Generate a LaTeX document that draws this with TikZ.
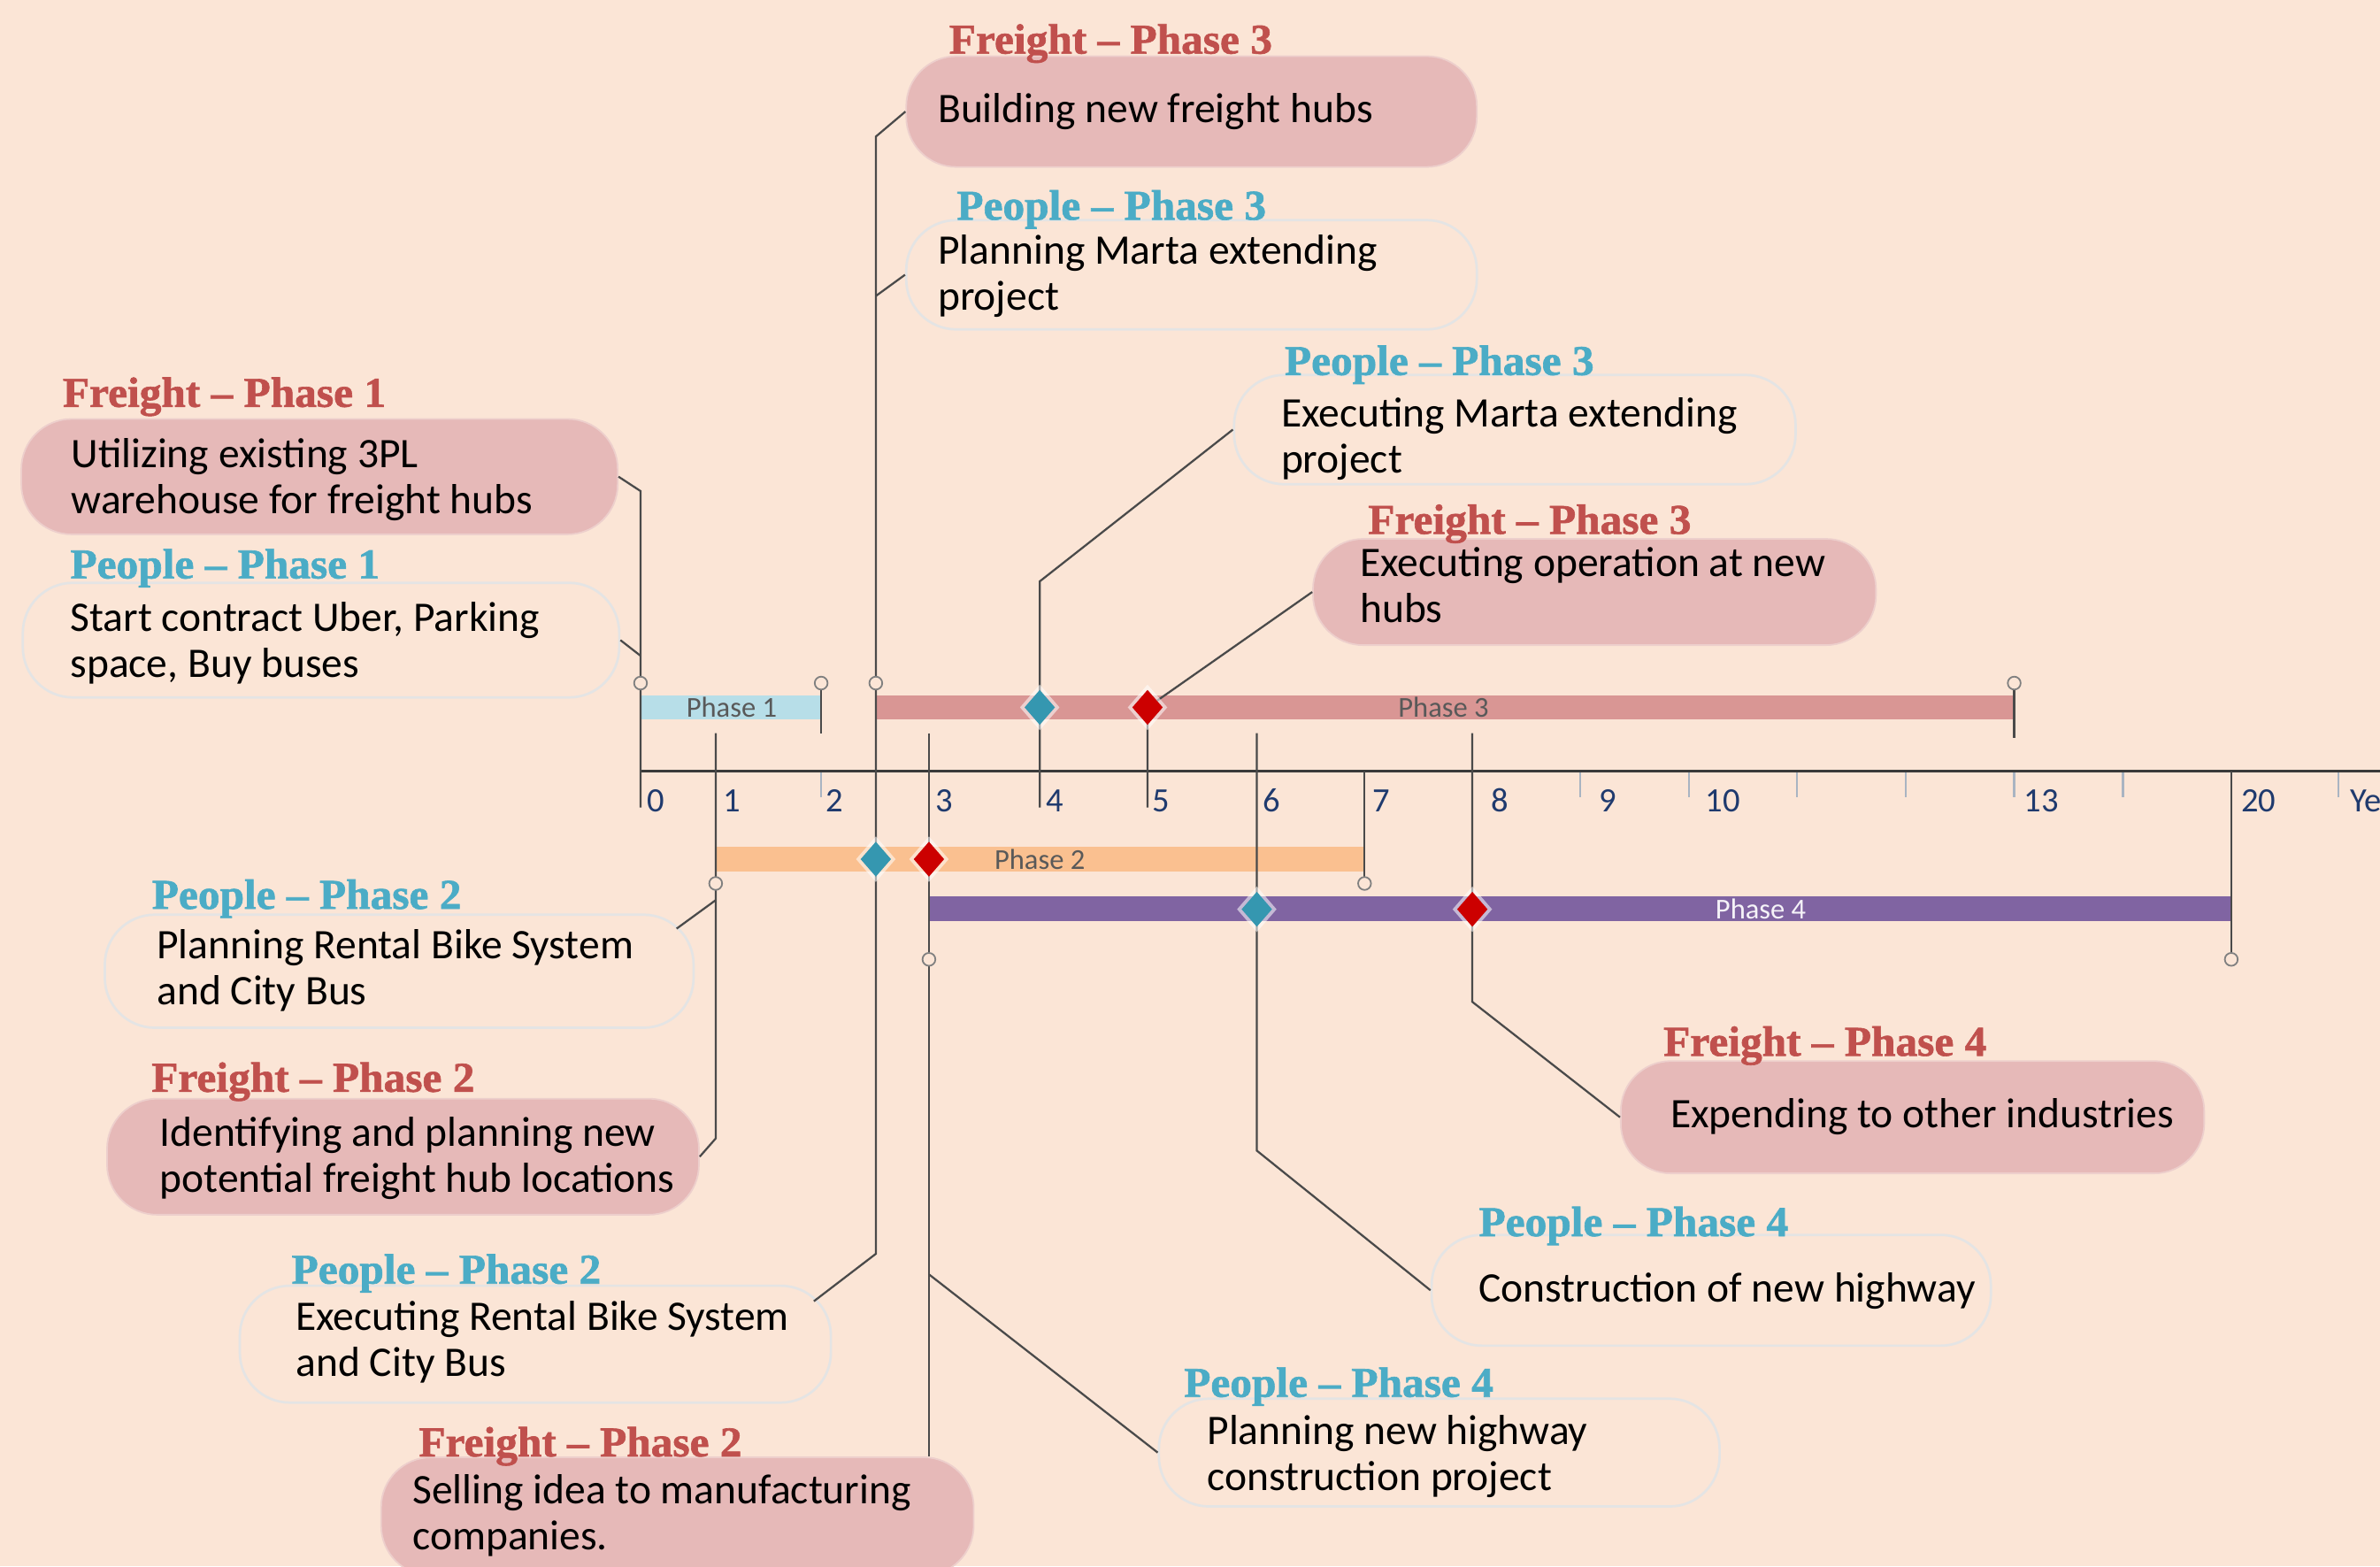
\documentclass[tikz,border=0pt]{standalone}
\usepackage{fontspec}
\setmainfont{Carlito}
\newfontfamily\hdfont{Liberation Serif Bold}[FakeStretch=1.03, FakeBold=1.3]
\usetikzlibrary{calc}
\definecolor{bg}{HTML}{FBE5D6}
\definecolor{fred}{HTML}{C0504D}
\definecolor{pteal}{HTML}{4BACC6}
\definecolor{fbx}{HTML}{E6B9B8}
\definecolor{fbxline}{HTML}{EDCFCC}
\definecolor{pline}{HTML}{E4E4E4}
\definecolor{cline}{HTML}{4A4A4A}
\definecolor{axisc}{HTML}{3A3A3A}
\definecolor{tickc}{HTML}{A9B4C2}
\definecolor{navy}{HTML}{1F3A6E}
\definecolor{ph1}{HTML}{B7DEE8}
\definecolor{ph2}{HTML}{FAC090}
\definecolor{ph3}{HTML}{D99694}
\definecolor{ph4}{HTML}{8064A2}
\definecolor{dteal}{HTML}{3597B0}
\definecolor{dred}{HTML}{CC0000}
\definecolor{barlabc}{HTML}{595959}
\newcommand{\twoln}[2]{\begin{tabular}[t]{@{}l@{}}#1\\#2\end{tabular}}
\newcommand{\dmd}[3]{%
  \fill[white,opacity=0.55] (#1,#2-15) -- (#1+13,#2) -- (#1,#2+15) -- (#1-13,#2) -- cycle;
  \fill[#3] (#1,#2-11.5) -- (#1+10,#2) -- (#1,#2+11.5) -- (#1-10,#2) -- cycle;}
\tikzset{
  fbox/.style={rectangle, rounded corners=0.66cm, fill=fbx, draw=fbxline, line width=0.6pt, inner sep=0pt},
  pbox/.style={rectangle, rounded corners=0.66cm, draw=pline, line width=0.9pt, inner sep=0pt},
  fhead/.style={anchor=base west, inner sep=0pt, text=fred, font=\hdfont\fontsize{15.9}{18}\selectfont},
  phead/.style={anchor=base west, inner sep=0pt, text=pteal, font=\hdfont\fontsize{15.9}{18}\selectfont},
  body/.style={anchor=base west, inner sep=0pt, text=black, font=\fontsize{15.77}{17.24}\selectfont},
  conn/.style={draw=cline, line width=0.75pt},
  endpt/.style={circle, draw=gray, fill=bg, line width=0.6pt, minimum size=0.17cm, inner sep=0pt},
  ticklab/.style={anchor=base, inner sep=0pt, text=navy, font=\fontsize{12.8}{14}\selectfont},
  barlab/.style={inner sep=0pt, font=\fontsize{10.8}{12}\selectfont},
  tickmark/.style={draw=tickc, line width=0.8pt}
}
\begin{document}
\begin{tikzpicture}[x=0.02cm, y=-0.02cm]
\useasboundingbox (0,0) rectangle (1568,1032);
\clip (0,0) rectangle (1568,1032);
\fill[bg] (0,0) rectangle (1568,1032);

% ---------- boxes ----------
\node[fbox, minimum width=7.86cm, minimum height=1.52cm] (A) at (210.5,314) {};
\node[pbox, minimum width=7.86cm, minimum height=1.51cm] (B) at (211.5,421.7) {};
\node[fbox, minimum width=7.52cm, minimum height=1.46cm] (C) at (785,73.5) {};
\node[pbox, minimum width=7.52cm, minimum height=1.44cm] (D) at (785,181) {};
\node[pbox, minimum width=7.40cm, minimum height=1.44cm] (E) at (998,283) {};
\node[fbox, minimum width=7.42cm, minimum height=1.40cm] (F) at (1050.5,390) {};
\node[pbox, minimum width=7.76cm, minimum height=1.49cm] (G) at (263,639.8) {};
\node[fbox, minimum width=7.80cm, minimum height=1.53cm] (H) at (265.5,762) {};
\node[pbox, minimum width=7.79cm, minimum height=1.54cm] (I) at (352.7,885.5) {};
\node[fbox, minimum width=7.81cm, minimum height=1.56cm] (J) at (446.3,999) {};
\node[fbox, minimum width=7.69cm, minimum height=1.48cm] (K) at (1260,736) {};
\node[pbox, minimum width=7.37cm, minimum height=1.46cm] (L) at (1127.4,850) {};
\node[pbox, minimum width=7.39cm, minimum height=1.42cm] (M) at (948.2,956.9) {};

% ---------- bars ----------
\fill[ph1] (422,458) rectangle (541,474);
\fill[ph3] (577,458) rectangle (1327,474);
\fill[ph2] (471.5,558) rectangle (899,574);
\fill[ph4] (612,590.6) rectangle (1470,607);

% ---------- axis and ticks ----------
\coordinate (ax0) at (422,508);
\coordinate (ax1) at (1575,508);
\foreach \t in {541,685,756,1041,1112.6,1184,1255.6,1327,1398.6,1470,1540.6}
  \draw[tickmark] (\t,508) -- (\t,525);
\draw[draw=axisc, line width=1.2pt] (ax0) -- (ax1);

% ---------- connectors ----------
\coordinate (a1) at (422,323.5);
\coordinate (a2) at (422,432);
\coordinate (a0) at (422,532);
\draw[conn] (A.east) -- (a1) -- (a0);
\draw[conn] (B.east) -- (a2);

\coordinate (p1e0) at (541,450);
\coordinate (p1e1) at (541,483);
\draw[conn] (p1e0) -- (p1e1);

\coordinate (c1) at (577,90);
\coordinate (c2) at (577,195);
\coordinate (c3) at (577,826);
\draw[conn] (C.west) -- (c1) -- (c3) -- ($(I.north east)+(-12,11)$);
\draw[conn] (D.west) -- (c2);

\coordinate (e1) at (685,383);
\coordinate (e0) at (685,532);
\draw[conn] (E.west) -- (e1) -- (e0);

\coordinate (f1) at (756,466);
\coordinate (f0) at (756,532);
\draw[conn] (F.west) -- (f1) -- (f0);

\coordinate (g0) at (471.5,483);
\coordinate (g1) at (471.5,593);
\coordinate (g2) at (471.5,750);
\draw[conn] (g0) -- (g2) -- (H.east);
\draw[conn] (g1) -- ($(G.north east)+(-12,10)$);

\coordinate (j0) at (612,483);
\coordinate (j1) at (612,839.5);
\draw[conn] (j0) -- (j0 |- J.north);
\draw[conn] (j1) -- (M.west);

\coordinate (l0) at (828,483);
\coordinate (l1) at (828,758);
\draw[conn] (l0) -- (l1) -- (L.west);

\coordinate (k0) at (970,483);
\coordinate (k1) at (970,660);
\draw[conn] (k0) -- (k1) -- (K.west);

\coordinate (p2e0) at (899,508);
\coordinate (p2e1) at (899,582);
\draw[conn] (p2e0) -- (p2e1);

\coordinate (p3e0) at (1327,450);
\coordinate (p3e1) at (1327,486);
\draw[conn] (p3e0) -- (p3e1);

\coordinate (p4e0) at (1470,508);
\coordinate (p4e1) at (1470,632);
\draw[conn] (p4e0) -- (p4e1);

% ---------- end circles ----------
\node[endpt] (o1) at (422,450) {};
\node[endpt] (o2) at (541,450) {};
\node[endpt] (o3) at (577,450) {};
\node[endpt] (o4) at (1327,450) {};
\node[endpt] (o5) at (471.5,582) {};
\node[endpt] (o6) at (899,582) {};
\node[endpt] (o7) at (612,632) {};
\node[endpt] (o8) at (1470,632) {};

% ---------- diamonds ----------
\dmd{685}{466}{dteal}
\dmd{756}{466}{dred}
\dmd{577}{566}{dteal}
\dmd{612}{566}{dred}
\dmd{828}{599}{dteal}
\dmd{970}{599}{dred}

% ---------- bar labels ----------
\node[barlab, text=barlabc] (bl1) at (482,466) {Phase 1};
\node[barlab, text=barlabc] (bl3) at (951,466) {Phase 3};
\node[barlab, text=barlabc] (bl2) at (685,566) {Phase 2};
\node[barlab, text=white!92!ph4] (bl4) at (1160,599) {Phase 4};

% ---------- tick labels ----------
\node[ticklab] (t0) at (432,535) {0};
\node[ticklab] (t1) at (482,535) {1};
\node[ticklab] (t2) at (550,535) {2};
\node[ticklab] (t3) at (622,535) {3};
\node[ticklab] (t4) at (695,535) {4};
\node[ticklab] (t5) at (765,535) {5};
\node[ticklab] (t6) at (838,535) {6};
\node[ticklab] (t7) at (910,535) {7};
\node[ticklab] (t8) at (988,535) {8};
\node[ticklab] (t9) at (1059,535) {9};
\node[ticklab] (t10) at (1135,535) {10};
\node[ticklab] (t13) at (1345,535) {13};
\node[ticklab] (t20) at (1488,535) {20};
\node[ticklab, anchor=base west] (tyr) at (1548,535) {Ye};

% ---------- headers ----------
\node[fhead] (hA) at (41,268) {Freight – Phase 1};
\node[phead] (hB) at (46,381) {People – Phase 1};
\node[fhead] (hC) at (625,35.3) {Freight – Phase 3};
\node[phead] (hD) at (630,144.7) {People – Phase 3};
\node[phead] (hE) at (846,247) {People – Phase 3};
\node[fhead] (hF) at (901,351.7) {Freight – Phase 3};
\node[phead] (hG) at (99.8,598.7) {People – Phase 2};
\node[fhead] (hH) at (99.5,719.2) {Freight – Phase 2};
\node[phead] (hI) at (191.8,845.6) {People – Phase 2};
\node[fhead] (hJ) at (275.6,959.4) {Freight – Phase 2};
\node[fhead] (hK) at (1095.6,695.5) {Freight – Phase 4};
\node[phead] (hL) at (974,814.3) {People – Phase 4};
\node[phead] (hM) at (779.7,920.2) {People – Phase 4};

% ---------- body texts ----------
\node[body] (xA) at (46.6,308) {\twoln{Utilizing existing 3PL}{warehouse for freight hubs}};
\node[body] (xB) at (46,416) {\twoln{Start contract Uber, Parking}{space, Buy buses}};
\node[body] (xC) at (617.6,81) {Building new freight hubs};
\node[body] (xD) at (617.6,173.8) {\twoln{Planning Marta extending}{project}};
\node[body] (xE) at (843.7,281) {\twoln{Executing Marta extending}{project}};
\node[body] (xF) at (895.7,380) {\twoln{Executing operation at new}{hubs}};
\node[body] (xG) at (103,631.3) {\twoln{Planning Rental Bike System}{and City Bus}};
\node[body] (xH) at (105,755.3) {\twoln{Identifying and planning new}{potential freight hub locations}};
\node[body] (xI) at (194.6,876.4) {\twoln{Executing Rental Bike System}{and City Bus}};
\node[body] (xJ) at (271.5,990.8) {\twoln{Selling idea to manufacturing}{companies.}};
\node[body] (xK) at (1100.2,742.8) {Expending to other industries};
\node[body] (xL) at (973.9,857.8) {Construction of new highway};
\node[body] (xM) at (795,951.3) {\twoln{Planning new highway}{construction project}};
\end{tikzpicture}
\end{document}
